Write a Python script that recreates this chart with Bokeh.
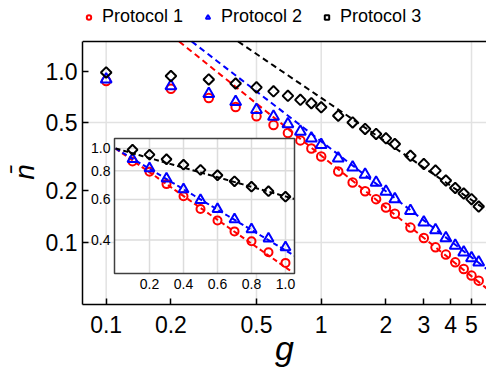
import numpy as np
from bokeh.plotting import figure
from bokeh.models import (Range1d, FixedTicker, Legend, LegendItem, LinearScale,
                          LogScale, Span)
from bokeh.core.properties import value
from bokeh.embed import file_html
from bokeh.resources import INLINE

# ---------------- data ----------------
g = [0.1, 0.2, 0.3, 0.4, 0.5, 0.6, 0.7, 0.8, 0.9, 1.0,
     1.2, 1.4, 1.6, 1.8, 2.0, 2.2, 2.6, 3.0, 3.4, 3.8, 4.2, 4.6, 5.0, 5.4]
n_protocol1 = [0.878, 0.792, 0.700, 0.620, 0.546, 0.486, 0.436, 0.395, 0.354, 0.318,
               0.260, 0.224, 0.199, 0.179, 0.160, 0.147, 0.122, 0.106, 0.0935, 0.0848,
               0.0764, 0.0699, 0.0639, 0.0597]
n_protocol2 = [0.900, 0.820, 0.740, 0.664, 0.597, 0.545, 0.492, 0.445, 0.406, 0.372,
               0.310, 0.275, 0.249, 0.224, 0.198, 0.179, 0.153, 0.131, 0.118, 0.106,
               0.0957, 0.0874, 0.081, 0.0764]
n_protocol3 = [0.987, 0.940, 0.898, 0.850, 0.807, 0.765, 0.720, 0.682, 0.652, 0.617,
               0.551, 0.503, 0.461, 0.431, 0.406, 0.376, 0.321, 0.287, 0.263, 0.230,
               0.208, 0.193, 0.179, 0.162]
series_names = ["Protocol 1", "Protocol 2", "Protocol 3"]
series_colors = ["#ff0000", "#0000ff", "#000000"]

# large-g asymptotes  n ~ A * g**b   (dashed lines, main panel)
asym_coef = [0.322, 0.39, 0.70]
asym_exp = [-1.01, -0.97, -0.854]
# small-g behaviour  n ~ exp(-k g)   (dashed lines, inset)
inset_rate = [1.19, 1.02, 0.48]

x_ticks = [0.1, 0.2, 0.5, 1, 2, 3, 4, 5]
x_tick_labels = ["0.1", "0.2", "0.5", "1", "2", "3", "4", "5"]
y_ticks = [0.1, 0.2, 0.5, 1.0]
y_tick_labels = ["0.1", "0.2", "0.5", "1.0"]
x_grid = [0.1, 0.5, 1, 5]
y_grid = [0.1, 0.5]
inset_x_ticks = [0.2, 0.4, 0.6, 0.8, 1.0]
inset_x_labels = ["0.2", "0.4", "0.6", "0.8", "1.0"]
inset_y_ticks = [0.4, 0.6, 0.8, 1.0]
inset_y_labels = ["0.4", "0.6", "0.8", "1.0"]
n_inset = 10

# axis limits of the main panel
x_lim = (0.0776, 5.87)
y_lim = (0.0433, 1.497)

FONT = "Liberation Sans"

# ---------------- layout geometry (pixels) ----------------
W, H = 486, 374
B_LEFT, B_RIGHT, B_TOP, B_BOTTOM = 82, 0, 0, 70
FRAME_W = W - B_LEFT - B_RIGHT
FRAME_H = H - B_TOP - B_BOTTOM
PLOT_TOP = 41             # visible top border of the panel (px from frame top)
# the frame reaches the top of the figure so the legend can sit above the panel
y_top_ext = 10 ** (np.log10(y_lim[1]) +
                   PLOT_TOP * np.log10(y_lim[1] / y_lim[0]) / (FRAME_H - PLOT_TOP))

# inset box in frame pixels (from frame left / frame top)
IN_L, IN_R, IN_T, IN_B = 32, 212, 138, 273
in_x = (-0.006, 1.053)      # inset data limits (linear g)
in_y = (0.286, 1.105)       # inset data limits (log n)
sx = (in_x[1] - in_x[0]) / (IN_R - IN_L)
ex_start = in_x[0] - IN_L * sx
ex_end = in_x[1] + (FRAME_W - IN_R) * sx
ly0, ly1 = np.log10(in_y[0]), np.log10(in_y[1])
sy = (ly1 - ly0) / (IN_B - IN_T)
ey_end = 10 ** (ly1 + IN_T * sy)
ey_start = 10 ** (ly0 - (FRAME_H - IN_B) * sy)

# ---------------- main figure ----------------
p = figure(width=W, height=H, x_axis_type="log", y_axis_type="log",
           x_range=Range1d(*x_lim), y_range=Range1d(y_lim[0], y_top_ext),
           output_backend="svg", toolbar_location=None,
           min_border_left=B_LEFT, min_border_right=B_RIGHT, min_border_top=B_TOP,
           min_border_bottom=B_BOTTOM)
p.extra_x_ranges = {"inset": Range1d(ex_start, ex_end)}
p.extra_x_scales = {"inset": LinearScale()}
p.extra_y_ranges = {"inset": Range1d(ey_start, ey_end)}
p.extra_y_scales = {"inset": LogScale()}
p.background_fill_color = "white"
p.border_fill_color = "white"
p.outline_line_color = None

# grid
p.xgrid.visible = False
p.segment(x0=x_grid, x1=x_grid, y0=y_lim[0], y1=y_lim[1], line_color="#e2e2e2",
          line_width=1.5, level="underlay")
p.ygrid.ticker = FixedTicker(ticks=y_grid)
p.ygrid.grid_line_color = "#e2e2e2"
p.ygrid.grid_line_width = 1.5

# top border of the panel
p.add_layout(Span(location=y_lim[1], dimension="width", line_color="black",
                  line_width=1.5))

markers = ["circle", "triangle", "square"]
sizes = [8.5, 11, 7.5]
angles = [0, 0, np.pi / 4]
series = [n_protocol1, n_protocol2, n_protocol3]
items = []
for i in range(3):
    g_start = (y_lim[1] / asym_coef[i]) ** (1.0 / asym_exp[i])
    gl = np.geomspace(g_start, 8, 40)
    p.line(gl, asym_coef[i] * gl ** asym_exp[i], line_color=series_colors[i],
           line_width=2, line_dash="6 4")
    r = p.scatter(g, series[i], marker=markers[i], size=sizes[i], angle=angles[i],
                  fill_color=None, line_color=series_colors[i], line_width=2)
    items.append(LegendItem(label=value(series_names[i]), renderers=[r]))

legend = Legend(items=items, orientation="horizontal", location=(1, FRAME_H - 27),
                padding=0, margin=0, spacing=19, label_standoff=8,
                glyph_width=11, glyph_height=16, label_height=18,
                label_text_font=FONT, label_text_font_size="18px",
                label_text_color="black",
                border_line_alpha=0, background_fill_alpha=0)
p.add_layout(legend, "center")

for ax in (p.xaxis[0], p.yaxis[0]):
    ax.axis_line_color = "black"
    ax.axis_line_width = 1.5
    ax.major_tick_in = 6
    ax.major_tick_out = 0
    ax.major_tick_line_color = "black"
    ax.major_tick_line_width = 1.5
    ax.minor_tick_line_color = None
    ax.major_label_text_font = FONT
    ax.major_label_text_font_size = "23px"
    ax.major_label_text_color = "black"
    ax.axis_label_text_font = FONT
    ax.axis_label_text_font_style = "italic"
    ax.axis_label_text_color = "black"

p.yaxis.bounds = y_lim
p.xaxis.ticker = FixedTicker(ticks=x_ticks)
p.xaxis.major_label_overrides = {t: s for t, s in zip(x_ticks, x_tick_labels)}
p.yaxis.ticker = FixedTicker(ticks=y_ticks)
p.yaxis.major_label_overrides = {t: s for t, s in zip(y_ticks, y_tick_labels)}
p.xaxis.major_label_standoff = 11
p.yaxis.major_label_standoff = 5
p.xaxis.axis_label = "g"
p.xaxis.axis_label_text_font_size = "34px"
p.xaxis.axis_label_standoff = -7
# non-breaking spaces keep the label centred on the visible panel
p.yaxis.axis_label = "n\u0304" + "\u00a0" * 5
p.yaxis.axis_label_text_font_size = "28px"
p.yaxis.axis_label_standoff = 3

# ---------------- inset (drawn on the "inset" ranges) ----------------
R = dict(x_range_name="inset", y_range_name="inset")
p.quad(left=in_x[0], right=in_x[1], bottom=in_y[0], top=in_y[1],
       fill_color="white", line_color=None, **R)
p.segment(x0=inset_x_ticks, x1=inset_x_ticks, y0=in_y[0], y1=in_y[1],
          line_color="#dcdcdc", line_width=1.5, **R)
p.segment(x0=in_x[0], x1=in_x[1], y0=inset_y_ticks, y1=inset_y_ticks,
          line_color="#dcdcdc", line_width=1.5, **R)

gi = np.linspace(0, in_x[1], 60)
isizes = [8, 10, 7]
for i in range(3):
    ni = np.exp(-inset_rate[i] * gi)
    keep = ni >= in_y[0]
    p.line(gi[keep], ni[keep], line_color=series_colors[i],
           line_width=2, line_dash="5 3", **R)
    p.scatter(g[:n_inset], series[i][:n_inset], marker=markers[i], size=isizes[i],
              angle=angles[i], fill_color=None, line_color=series_colors[i],
              line_width=2, **R)

p.quad(left=in_x[0], right=in_x[1], bottom=in_y[0], top=in_y[1],
       fill_color=None, line_color="#404040", line_width=1.5, **R)
p.text(x=inset_x_ticks, y=in_y[0], text=inset_x_labels, y_offset=5,
       text_align="center", text_baseline="top", text_font=value(FONT),
       text_font_size="14px", text_color="black", **R)
p.text(x=in_x[0], y=inset_y_ticks, text=inset_y_labels, x_offset=-4,
       text_align="right", text_baseline="middle", text_font=value(FONT),
       text_font_size="14px", text_color="black", **R)

open("out.html", "w").write(file_html(p, INLINE))
